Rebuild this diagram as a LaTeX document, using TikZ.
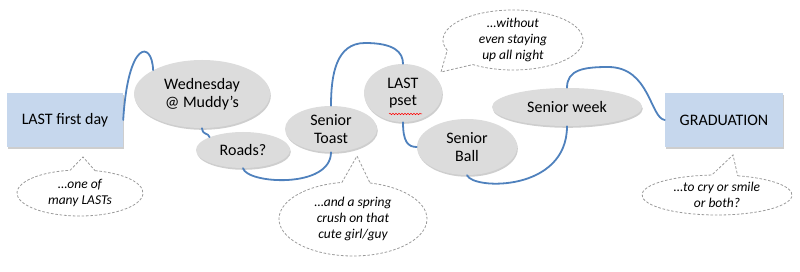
\documentclass[tikz,border=0pt]{standalone}
\usepackage{fontspec}
\setmainfont{Carlito}
\usetikzlibrary{shapes.geometric,shadows,decorations.pathmorphing,calc}
\definecolor{connc}{HTML}{4F81BD}
\definecolor{boxfill}{HTML}{C6D7ED}
\definecolor{ellfill}{HTML}{DCDCDC}
\definecolor{callline}{HTML}{9A9A9A}
\tikzset{
  evt/.style={ellipse, fill=ellfill, inner sep=0pt, align=center,
    font=\fontsize{16}{17.5}\selectfont,
    drop shadow={shadow xshift=0.8pt, shadow yshift=-1.8pt, opacity=0.35, fill=black!55}},
  endbox/.style={rectangle, fill=boxfill, inner sep=0pt, minimum height=54pt,
    font=\fontsize{16}{18}\selectfont,
    drop shadow={shadow xshift=0.6pt, shadow yshift=-1.6pt, opacity=0.35, fill=black!55}},
  calltext/.style={ellipse, inner sep=0pt, align=center,
    font=\fontsize{13.5}{16}\selectfont\itshape},
  callout/.style={draw=callline, line width=0.8pt, dash pattern=on 2.6pt off 1.8pt},
  link/.style={draw=connc, line width=1.8pt, line cap=round},
}
\begin{document}
\begin{tikzpicture}[x=1pt,y=-1pt]
\useasboundingbox (0,0) rectangle (800,272);

% main nodes
\node[endbox, minimum width=116pt] (first) at (65,120) {LAST first day};
\node[evt, minimum width=136pt, minimum height=68pt] (wed) at (202,94) {Wednesday\\@ Muddy’s};
\node[evt, minimum width=94pt, minimum height=36pt] (roads) at (243,150) {Roads?};
\node[evt, minimum width=92pt, minimum height=46pt] (toast) at (331,129) {Senior\\Toast};
\node[evt, minimum width=78pt, minimum height=58pt] (pset) at (403,93) {LAST\\pset};
\node[evt, minimum width=100pt, minimum height=56pt] (ball) at (467,147) {Senior\\Ball};
\node[evt, minimum width=150pt, minimum height=38pt] (week) at (567,107) {Senior week};
\node[endbox, minimum width=118pt] (grad) at (724,120) {GRADUATION};

% spell-check squiggle
\draw[red, line width=0.5pt, decorate, decoration={snake, amplitude=0.7pt, segment length=3pt}]
  ($(pset.center)+(-14,21)$) -- ($(pset.center)+(19,21)$);

% connectors
\draw[link] (first.east) .. controls (128,40) and (152,40) .. (wed.154);
\draw[link] (wed.south) .. controls (203,136) and (208,132) .. (roads.159);
\draw[link] (roads.south) .. controls (247,184) and (331,189) .. (toast.south);
\draw[link] (toast.north) .. controls (331,75) and (336,43) .. (365,43)
  .. controls (394,43) and (403,52) .. (pset.north);
\draw[link] (pset.south) .. controls (403,142) and (408,147) .. (ball.west);
\draw[link] (ball.south) .. controls (473,190) and (567,192) .. (week.south);
\draw[link] (week.north) .. controls (567,70) and (583,67) .. (608,67)
  .. controls (650,67) and (650,118) .. (grad.west);

% callouts
\node[calltext, minimum width=126pt, minimum height=46pt] (c1) at (80,193) {…one of\\many LASTs};
\coordinate (c1tip) at (83,157);
\draw[callout] ($(c1.center)+({63*cos(283.8)},{23*sin(283.8)})$)
  arc[start angle=283.8, end angle=621, x radius=63, y radius=23] -- (c1tip) -- cycle;

\node[calltext, minimum width=148pt, minimum height=74pt] (c2) at (353,219) {…and a spring\\crush on that\\cute girl/guy};
\coordinate (c2tip) at (357,156);
\draw[callout] ($(c2.center)+({74*cos(283.3)},{37*sin(283.3)})$)
  arc[start angle=283.3, end angle=621.4, x radius=74, y radius=37] -- (c2tip) -- cycle;

\node[calltext, minimum width=140pt, minimum height=60pt] (c3) at (513,40) {…without\\even staying\\up all night};
\coordinate (c3tip) at (441,72);
\draw[callout] ($(c3.center)+({70*cos(160)},{30*sin(160)})$)
  arc[start angle=160, end angle=485, x radius=70, y radius=30] -- (c3tip) -- cycle;

\node[calltext, minimum width=150pt, minimum height=40pt] (c4) at (717,195) {…to cry or smile\\or both?};
\coordinate (c4tip) at (733,155);
\draw[callout] ($(c4.center)+({75*cos(286)},{20*sin(286)})$)
  arc[start angle=286, end angle=626, x radius=75, y radius=20] -- (c4tip) -- cycle;
\end{tikzpicture}
\end{document}
